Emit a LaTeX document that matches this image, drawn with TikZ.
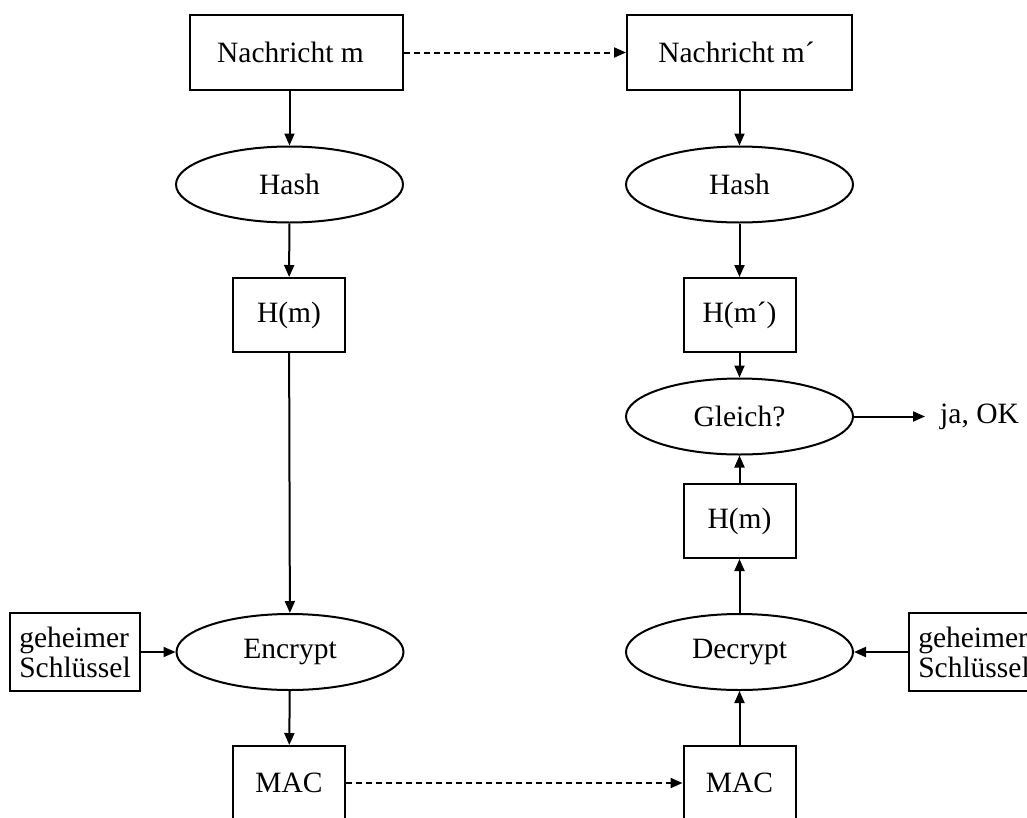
\documentclass[tikz,border=0pt]{standalone}
\usepackage{fontspec}
\setmainfont{Liberation Serif}
\usetikzlibrary{shapes.geometric,arrows.meta}
\begin{document}
\begin{tikzpicture}[x=1pt,y=-1pt,
  every node/.style={font=\fontsize{29.5}{30}\selectfont, inner sep=0pt},
  rectbox/.style={draw, line width=2pt, rectangle, minimum width=112pt, minimum height=74pt},
  ell/.style={draw, ellipse, line width=2pt, minimum width=227pt, minimum height=76pt},
  arr/.style={line width=2pt, -{Triangle[length=12pt,width=10pt]}},
  dasharr/.style={arr, dash pattern=on 6pt off 4pt}]
\useasboundingbox (0,0) rectangle (1027,817);
\clip (0,0) rectangle (1027,817);
% left column
\node[rectbox, minimum width=213pt, minimum height=75pt] (Nm) at (296.5,52.5) {Nachricht m\kern12pt};
\node[ell] (H1) at (289.5,184.5) {Hash};
\node[rectbox] (Hm1) at (289,315) {H(m)};
\node[ell] (Enc) at (290,652) {Encrypt};
\node[rectbox] (MAC1) at (289,783) {MAC};
\node[rectbox, minimum width=130pt, minimum height=78pt, align=left] (K1) at (75,652) {geheimer\\Schlüssel};
% right column
\node[rectbox, minimum width=225pt, minimum height=75pt] (Nm2) at (739.5,52.5) {Nachricht m´\kern6pt};
\node[ell] (H2) at (739.5,184.5) {Hash};
\node[rectbox] (Hm2) at (739.5,315) {H(m´)};
\node[ell] (G) at (739.5,416.5) {Gleich?};
\node[anchor=west] (ok) at (940,416.5) {ja, OK};
\node[rectbox] (Hm3) at (739.5,521) {H(m)};
\node[ell] (Dec) at (739.5,652) {Decrypt};
\node[rectbox] (MAC2) at (739.5,783) {MAC};
\node[rectbox, minimum width=130pt, minimum height=78pt, align=left] (K2) at (974,652) {geheimer\\Schlüssel};
% connectors
\draw[arr] (H1.north |- Nm.south) -- (H1.north);
\draw[arr] (H1) -- (Hm1);
\draw[arr] (Hm1) -- (Enc);
\draw[arr] (Enc) -- (MAC1);
\draw[arr] (K1) -- (Enc);
\draw[dasharr] (Nm) -- (Nm2);
\draw[dasharr] (MAC1) -- (MAC2);
\draw[arr] (Nm2) -- (H2);
\draw[arr] (H2) -- (Hm2);
\draw[arr] (Hm2) -- (G);
\draw[arr] (MAC2) -- (Dec);
\draw[arr] (Dec) -- (Hm3);
\draw[arr] (Hm3) -- (G);
\draw[arr] (K2) -- (Dec);
\draw[arr] (G) -- ([xshift=-15pt]ok.west);
\end{tikzpicture}
\end{document}
